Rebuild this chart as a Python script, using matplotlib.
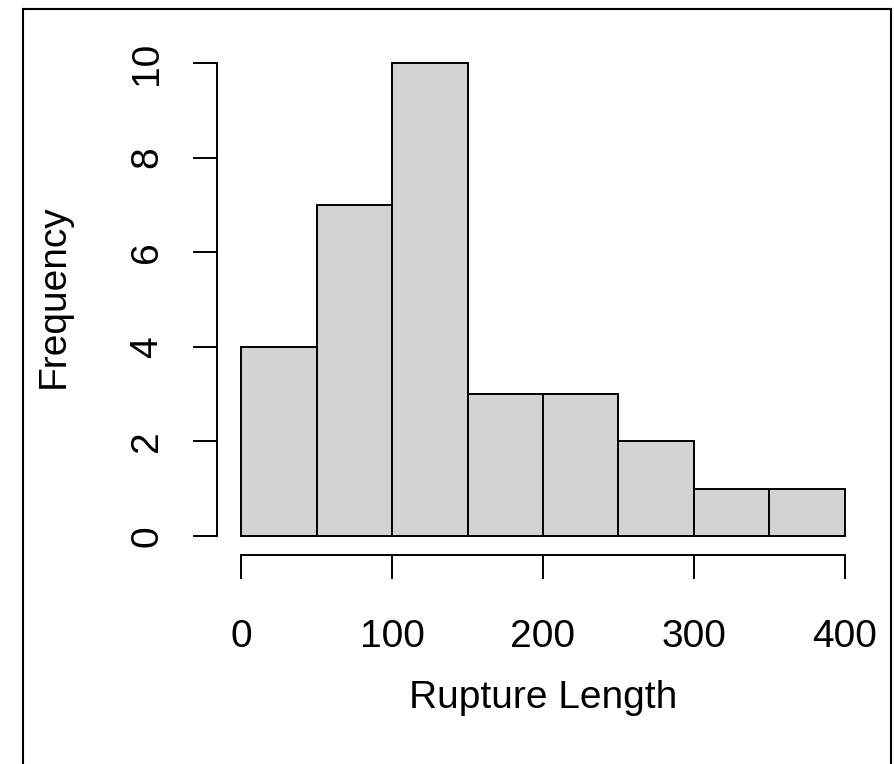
import numpy as np
import matplotlib
matplotlib.use("Agg")
import matplotlib.pyplot as plt
from matplotlib.lines import Line2D

# histogram of rupture lengths
bin_edges = [0, 50, 100, 150, 200, 250, 300, 350, 400]
counts = [4, 7, 10, 3, 3, 2, 1, 1]
x_ticks = [0, 100, 200, 300, 400]
y_ticks = [0, 2, 4, 6, 8, 10]

plt.rcParams['font.family'] = ['Liberation Sans', 'DejaVu Sans']

W, H = 894, 764
fig = plt.figure(figsize=(W / 100, H / 100), dpi=100)

def fx(px):
    return px / W

def fy(py):
    return 1 - py / H

# plot region in pixels (R style 4% padding)
left, right, top, bottom = 217, 869, 44, 555
ax = fig.add_axes([fx(left), fy(bottom), fx(right) - fx(left), fy(top) - fy(bottom)])

ax.bar(bin_edges[:-1], counts, width=np.diff(bin_edges), align='edge',
       color='#D3D3D3', edgecolor='black', linewidth=1.4)

ax.set_xlim(-16, 416)
ax.set_ylim(-0.4, 10.4)

for s in ['top', 'right']:
    ax.spines[s].set_visible(False)
ax.spines['left'].set_bounds(0, 10)
ax.spines['bottom'].set_bounds(0, 400)
for s in ['left', 'bottom']:
    ax.spines[s].set_linewidth(1.4)

ax.set_xticks(x_ticks)
ax.set_yticks(y_ticks)
ax.set_yticklabels([str(v) for v in y_ticks], rotation=90, va='center')
ax.tick_params(axis='both', direction='out', length=17.3, width=1.4, labelsize=28)
ax.tick_params(axis='x', pad=29)
ax.tick_params(axis='y', pad=20)

fig.text(fx(543), fy(698), 'Rupture Length', fontsize=28, ha='center', va='center')
fig.text(fx(54), fy(296), 'Frequency', fontsize=28, ha='center', va='center', rotation=90)

# outer frame
lw = 1.5
fig.add_artist(Line2D([fx(23), fx(23)], [fy(9), fy(770)], color='black', lw=lw))
fig.add_artist(Line2D([fx(23), fx(891)], [fy(9), fy(9)], color='black', lw=lw))
fig.add_artist(Line2D([fx(891), fx(891)], [fy(9), fy(770)], color='black', lw=lw))

fig.savefig('out.png', dpi=100)
